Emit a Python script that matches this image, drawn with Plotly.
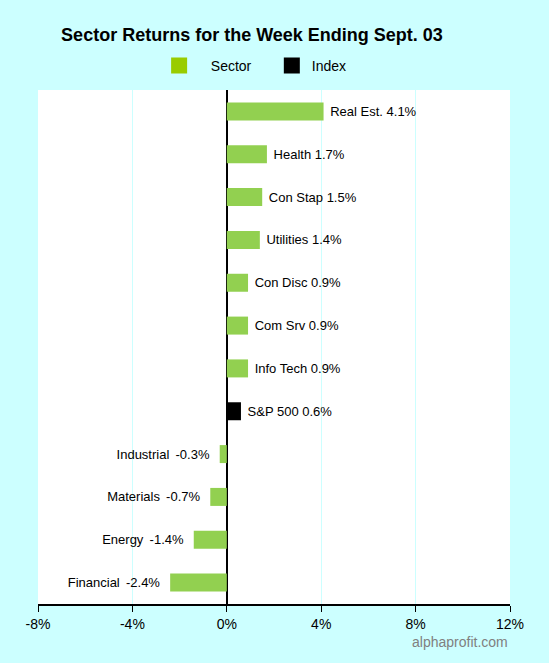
import plotly.graph_objects as go

categories = ["Real Est.", "Health", "Con Stap", "Utilities", "Con Disc", "Com Srv",
              "Info Tech", "S&P 500", "Industrial", "Materials", "Energy", "Financial"]
returns = [4.1, 1.7, 1.5, 1.4, 0.9, 0.9, 0.9, 0.6, -0.3, -0.7, -1.4, -2.4]
kinds = ["Sector"] * 7 + ["Index"] + ["Sector"] * 4
tick_vals = [-8, -4, 0, 4, 8, 12]
tick_text = ["-8%", "-4%", "0%", "4%", "8%", "12%"]

bar_colors = {"Sector": "#92D050", "Index": "#000000"}
legend_colors = {"Sector": "#99CC00", "Index": "#000000"}

NB = "\u00a0"
TH = "\u2009"
labels = [f"{NB}{c} {v:.1f}%" if v >= 0 else f"{c}{NB}{TH}{v:.1f}%{NB*2}"
          for c, v in zip(categories, returns)]
legend_names = {"Sector": NB * 3 + "Sector" + NB * 4, "Index": "Index"}

fig = go.Figure()
fig.add_trace(go.Bar(
    x=returns, y=categories, orientation="h",
    marker=dict(color=[bar_colors[k] for k in kinds], line=dict(width=0)),
    width=0.42,
    text=labels, textposition="outside", cliponaxis=False,
    textfont=dict(family="Liberation Sans, Arial", size=13, color="black"),
    showlegend=False, hoverinfo="skip",
))
for k in ["Sector", "Index"]:
    fig.add_trace(go.Scatter(
        x=[None], y=[None], mode="markers", name=legend_names[k],
        marker=dict(symbol="square", size=18, color=legend_colors[k]),
    ))

fig.update_layout(
    width=549, height=663,
    paper_bgcolor="#CCFFFF", plot_bgcolor="white",
    margin=dict(l=38, r=39, t=90, b=59),
    title=dict(text="<b>Sector Returns for the Week Ending Sept. 03</b>",
               x=0.459, xanchor="center", y=0.947, yanchor="middle",
               font=dict(family="Liberation Sans, Arial", size=18, color="black")),
    legend=dict(orientation="h", x=0.46, xanchor="center", y=1.047, yanchor="middle",
                font=dict(family="Liberation Sans, Arial", size=14, color="black"),
                bgcolor="rgba(0,0,0,0)", tracegroupgap=0),
    font=dict(family="Liberation Sans, Arial", color="black"),
)
fig.update_xaxes(
    range=[-8, 12], tickvals=tick_vals, ticktext=tick_text,
    showgrid=True, gridcolor="#CCFFFF", gridwidth=1,
    zeroline=True, zerolinecolor="black", zerolinewidth=1.5,
    showline=True, linecolor="black", linewidth=1.5,
    ticks="outside", ticklen=6, tickcolor="black",
    tickfont=dict(family="Liberation Sans, Arial", size=14, color="black"),
    fixedrange=True,
)
fig.update_yaxes(
    categoryorder="array", categoryarray=categories[::-1],
    range=[-0.5, 11.5], showticklabels=False, showgrid=False, zeroline=False,
    showline=False, fixedrange=True,
)
fig.add_annotation(
    text="alphaprofit.com", xref="paper", yref="paper", x=1.0, y=-0.073,
    xanchor="right", yanchor="middle", showarrow=False,
    font=dict(family="Liberation Sans, Arial", size=14, color="#808080"),
)

fig.write_html(
    "out.html",
    config={"displayModeBar": False},
    post_script="document.body.style.margin='0';document.body.style.background='#CCFFFF';",
)
